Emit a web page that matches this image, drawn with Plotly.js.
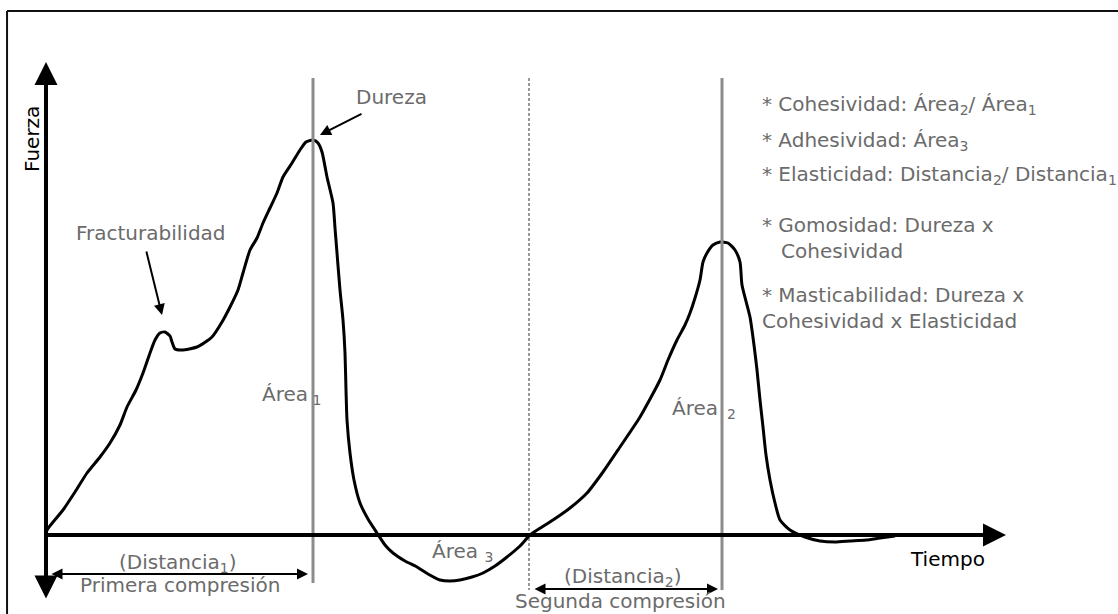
<!DOCTYPE html>
<html>
<head>
<meta charset="utf-8">
<script src="https://cdn.plot.ly/plotly-3.0.1.min.js"></script>
<style>html,body{margin:0;padding:0;background:#fff;}#chart{width:1118px;height:614px;}</style>
</head>
<body>
<div id="chart"></div>
<script>
// Texture profile curve (arbitrary units): tiempo vs fuerza
const tiempo = [0,0.1,1.7,2.9,4.1,5.4,6.4,7.4,8.1,9.0,9.7,10.4,10.9,11.4,11.9,12.4,12.6,12.9,13.6,15.1,16.6,17.6,18.4,19.2,19.7,20.4,21.1,21.7,22.4,23.1,23.7,24.6,25.4,26.0,26.7,27.2,27.6,28.1,28.7,28.9,29.1,29.4,29.7,29.9,30.0,30.1,30.4,30.8,31.4,32.2,33.1,33.9,34.7,35.9,37.1,38.2,39.4,40.4,41.4,42.6,43.7,44.9,46.1,47.4,48.4,49.6,50.7,52.4,54.1,55.7,57.4,59.4,61.4,62.2,63.1,63.9,64.4,64.9,65.4,65.7,66.1,66.7,67.4,68.2,68.9,69.4,69.6,70.4,70.8,71.1,71.4,71.7,72.0,72.4,72.9,73.4,74.4,75.9,77.4,78.9,80.4,82.0,83.4,84.9];
const fuerza = [0,0.5,2.5,4.3,6.2,7.8,9.2,11.0,12.8,14.5,16.2,18.2,19.5,20.2,20.3,19.9,19.3,18.6,18.5,18.8,19.8,21.3,22.8,24.5,26.2,28.5,29.7,31.2,32.7,34.2,35.8,37.2,38.5,39.3,39.5,39.2,38.3,35.8,33.2,30.7,28.2,24.5,21.5,18.2,14.5,11.5,8.2,5.5,3.2,1.6,0.2,-1.0,-1.8,-2.6,-3.2,-3.9,-4.5,-4.6,-4.5,-4.2,-3.8,-3.1,-2.2,-1.1,0,0.8,1.5,2.7,4.2,6.3,8.8,11.8,15.5,17.5,19.5,21.0,22.2,23.7,25.5,27.3,28.2,29.0,29.3,29.2,28.5,27.3,25.0,21.8,19.0,16.5,13.5,10.8,8.0,5.5,3.2,1.5,0.5,-0.2,-0.6,-0.7,-0.6,-0.5,-0.3,-0.1];

// Key instants
const tDureza = 26.7;      // end of first compression
const tInicio2 = 48.3;     // start of second compression
const tDureza2 = 67.6;     // end of second compression

// Text of the parameter list
const parametros = [
  "* Cohesividad: Área<sub>2</sub>/ Área<sub>1</sub>",
  "* Adhesividad: Área<sub>3</sub>",
  "* Elasticidad: Distancia<sub>2</sub>/ Distancia<sub>1</sub>",
  "* Gomosidad: Dureza x",
  "   Cohesividad",
  "* Masticabilidad: Dureza x",
  "Cohesividad x Elasticidad"
];
const parametrosY = [43.0, 39.4, 36.0, 31.0, 28.4, 24.0, 21.4];

const GRAY = '#6b6b6b';
const FONT = 'DejaVu Sans';

const trace = {
  x: tiempo, y: fuerza, type: 'scatter', mode: 'lines',
  line: {color: '#000', width: 3, shape: 'spline', smoothing: 0.6},
  hoverinfo: 'skip', showlegend: false
};

const ann = [];
function txt(x, y, text, opts) {
  ann.push(Object.assign({x: x, y: y, xref: 'x', yref: 'y', text: text, showarrow: false,
    font: {family: FONT, size: 20, color: GRAY}}, opts || {}));
}
function arrow(x, y, ax, ay, w, size, both) {
  ann.push({x: x, y: y, ax: ax, ay: ay, xref: 'x', yref: 'y', axref: 'x', ayref: 'y',
    text: '', showarrow: true, arrowhead: 2, arrowsize: size, arrowwidth: w, arrowcolor: '#000',
    arrowside: both ? 'end+start' : 'end', startarrowhead: 2, startarrowsize: size, standoff: 0, startstandoff: 0});
}

// Axes
arrow(0, 47.3, 0, -6.5, 4, 1.15, true);
arrow(96.0, 0, 0, 0, 4, 1.15, false);
txt(-1.4, 39.6, 'Fuerza', {textangle: -90, font: {family: FONT, size: 20, color: '#000'}});
txt(90.1, -2.4, 'Tiempo', {font: {family: FONT, size: 20, color: '#000'}});

// Labels with arrows
txt(34.5, 43.8, 'Dureza');
arrow(27.4, 40.0, 31.7, 42.2, 2, 1.1, false);
txt(10.5, 30.2, 'Fracturabilidad');
arrow(11.6, 22.0, 10.0, 28.5, 2, 1.1, false);

// Areas
txt(21.4, 14.0, 'Área<sub> 1</sub>', {xanchor: 'left'});
txt(62.4, 12.6, 'Área<sub>  2</sub>', {xanchor: 'left'});
txt(38.4, -1.7, 'Área <sub>3</sub>', {xanchor: 'left'});

// Distances
txt(13.2, -2.8, '(Distancia<sub>1</sub>)');
arrow(26.2, -3.9, 0.4, -3.9, 2, 1.1, true);
txt(13.4, -5.0, 'Primera compresión');
txt(57.7, -4.2, '(Distancia<sub>2</sub>)');
arrow(67.2, -5.4, 48.7, -5.4, 2, 1.1, true);
txt(57.4, -6.6, 'Segunda compresión');

// Parameter list
parametros.forEach((p, i) => txt(71.4, parametrosY[i], p, {xanchor: 'left'}));

const shapes = [
  {type: 'line', xref: 'x', yref: 'y', x0: tDureza, x1: tDureza, y0: 45.7, y1: -4.8, line: {color: '#8c8c8c', width: 3}},
  {type: 'line', xref: 'x', yref: 'y', x0: tDureza2, x1: tDureza2, y0: 45.7, y1: -5.5, line: {color: '#8c8c8c', width: 3}},
  {type: 'line', xref: 'x', yref: 'y', x0: tInicio2, x1: tInicio2, y0: 45.7, y1: -5.5, line: {color: '#333', width: 1, dash: '3px,2px'}},
  // frame
  {type: 'line', xref: 'paper', yref: 'paper', x0: 0.0063, x1: 1, y0: 0.982, y1: 0.982, line: {color: '#111', width: 2}},
  {type: 'line', xref: 'paper', yref: 'paper', x0: 0.0063, x1: 0.0063, y0: 0.982, y1: 0, line: {color: '#111', width: 2}}
];

const layout = {
  width: 1118, height: 614,
  margin: {l: 0, r: 0, t: 0, b: 0},
  paper_bgcolor: '#fff', plot_bgcolor: '#fff',
  xaxis: {range: [-4.6, 107.2], visible: false, fixedrange: true},
  yaxis: {range: [-7.9, 53.5], visible: false, fixedrange: true},
  showlegend: false,
  annotations: ann,
  shapes: shapes,
  font: {family: FONT}
};

Plotly.newPlot('chart', [trace], layout, {displayModeBar: false, staticPlot: true});
</script>
</body>
</html>
